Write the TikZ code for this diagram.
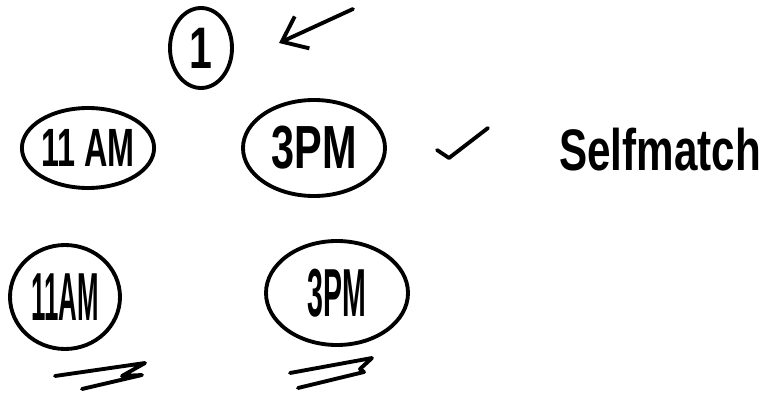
\documentclass[tikz,border=0pt]{standalone}
\usepackage{fontspec,graphicx}
\setmainfont{Liberation Sans}
\usetikzlibrary{arrows.meta,shapes.geometric}
\tikzset{ink/.style={line width=3.3pt,line cap=round,line join=round},blob/.style={ink,draw,ellipse,inner sep=0pt},every node/.style={font=\fontsize{48}{48}\selectfont}}
\newcommand\squeeze[2]{\scalebox{#1}[1]{#2}}

\begin{document}
\begin{tikzpicture}[x=0.03cm,y=-0.03cm]
\useasboundingbox (0,0) rectangle (772,394);
% top: slot 1 and pointer
\node[blob,minimum width=1.86cm,minimum height=2.4cm,font=\fontsize{50}{50}\selectfont\bfseries] (one) at (201,48){\squeeze{.7}{1}};
\coordinate (tail) at (353,9);\coordinate (tip) at (279,43);
\draw[ink,-{Straight Barb[length=19pt,width=30pt,line width=3.3pt]}] (tail)--(tip);
% first row
\node[blob,minimum width=3.48cm,minimum height=2.4cm,font=\fontsize{46}{46}\selectfont\bfseries] (amA) at (88,148){\squeeze{.6}{11 AM}};
\node[blob,minimum width=4.26cm,minimum height=2.88cm,font=\fontsize{52}{52}\selectfont\bfseries] (pmA) at (314,148){\squeeze{.68}{3PM}};
\draw[ink] (437,150)--(449,158)--(488,128);
\node[font=\fontsize{50}{50}\selectfont\bfseries] (self) at (660,150){\squeeze{.72}{Selfmatch}};
% second row
\node[blob,minimum width=3.3cm,minimum height=3.12cm,font=\fontsize{58}{58}\selectfont\bfseries] (amB) at (65,297){\squeeze{.38}{11AM}};
\node[blob,minimum width=4.26cm,minimum height=3.12cm,font=\fontsize{58}{58}\selectfont\bfseries] (pmB) at (337,293){\squeeze{.42}{3PM}};
\draw[ink] (55,376)--(145,363)--(122,376)--(142,375)--(82,389);
\draw[ink] (290,373)--(372,358)--(360,369)--(364,372)--(298,388);
\end{tikzpicture}
\end{document}
